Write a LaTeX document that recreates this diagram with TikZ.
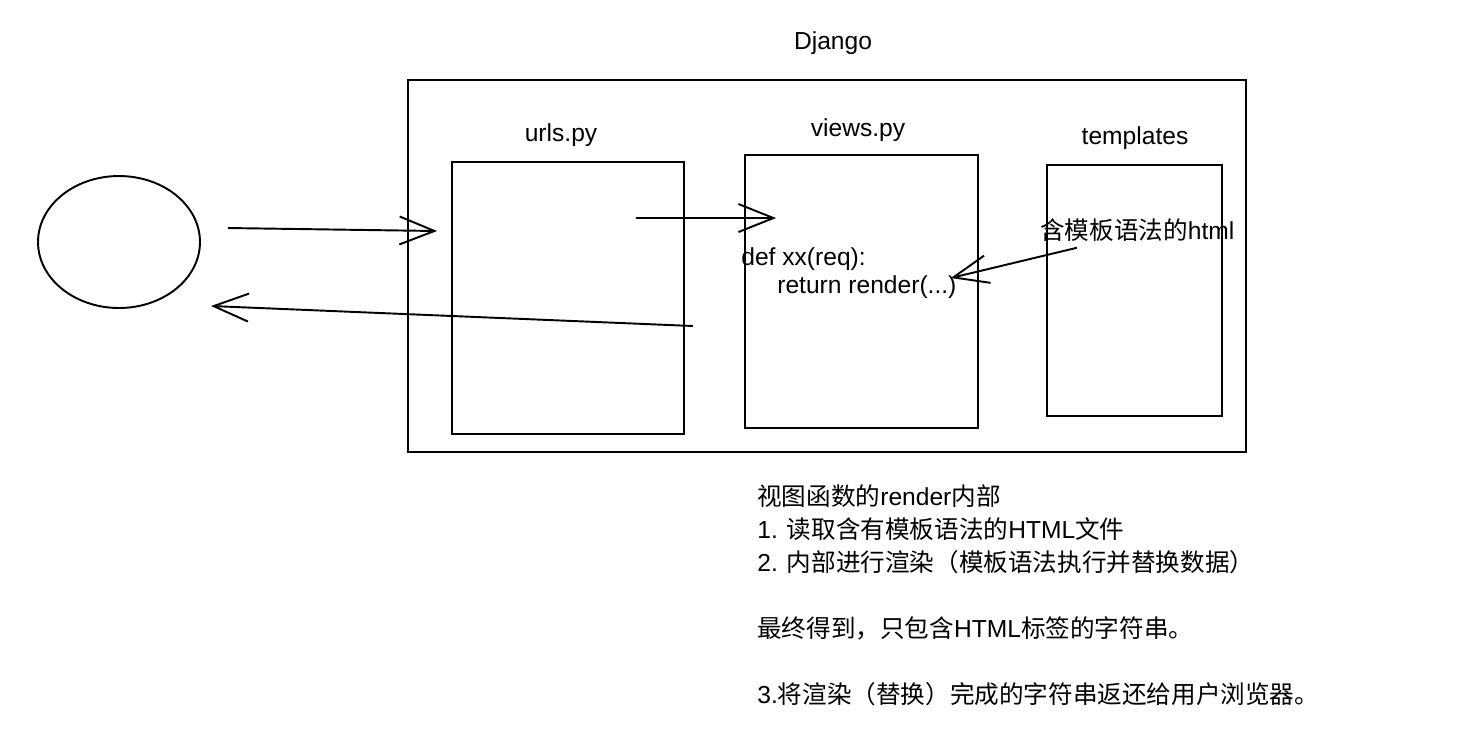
\documentclass[tikz,border=0pt]{standalone}
\usepackage{fontspec}
\setmainfont{Liberation Sans}
\newfontfamily\cjk{Noto Sans CJK SC}
\usetikzlibrary{arrows.meta, positioning, shapes.geometric}

\begin{document}
\begin{tikzpicture}[x=0.02cm, y=-0.02cm, font=\fontsize{14pt}{18.8pt}\selectfont,
  b/.style={draw, line width=1.1pt, minimum width=4.64cm, minimum height=5.44cm},
  t/.style={inner sep=0pt},
  a/.style={-{Straight Barb[length=7mm, width=5.6mm]}, line width=1.1pt, draw=black}]
  \useasboundingbox (0,0) rectangle (1469,752);
  \node[draw, line width=1.1pt, minimum width=16.76cm, minimum height=7.44cm] (django) at (827,266) {};
  \node[t] (djlbl) at (833,43) {Django};
  \node[b] (urls) at (568,298) {};
  \node[b, minimum width=4.66cm, minimum height=5.46cm] (views) at (861.5,291.5) {};
  \node[b, minimum width=3.5cm, minimum height=5.02cm] (tpl) at (1134.5,290.5) {};
  \node[t] (urlslbl) at (561,135) {urls.py};
  \node[t] (viewslbl) at (858,130) {views.py};
  \node[t] (tpllbl) at (1135,138) {templates};
  \node[draw, ellipse, line width=1.1pt, minimum width=3.24cm, minimum height=2.64cm] (user) at (119,242) {};
  \node[t, anchor=west] (html) at (1040,230) {{\cjk 含模板语法的}html};
  \node[t, anchor=west, align=left, font=\fontsize{14pt}{15.9pt}\selectfont] (code) at (741,273)
    {def xx(req):\\\hspace{0.72cm}return render(...)};
  \node[t, anchor=north west, align=left] (note) at (757,484)
    {{\cjk 视图函数的}render{\cjk 内部}\\
     1. {\cjk 读取含有模板语法的}HTML{\cjk 文件}\\
     2. {\cjk 内部进行渲染（模板语法执行并替换数据）}\\[0.66cm]
     {\cjk 最终得到，只包含}HTML{\cjk 标签的字符串。}\\[0.66cm]
     3.{\cjk 将渲染（替换）完成的字符串返还给用户浏览器。}};
  \draw[a] ([xshift=0.54cm, yshift=0.28cm]user.east) -- ([xshift=-0.28cm, yshift=1.34cm]urls.west);
  \draw[a] ([xshift=-0.98cm, yshift=1.6cm]urls.east) -- ([xshift=0.64cm, yshift=1.47cm]views.west);
  % the reply leaves from just right of the urls box and runs back to the browser
  \draw[a] ([xshift=0.16cm, yshift=-0.56cm]urls.east) -- ([xshift=0.2cm, yshift=-1.28cm]user.east);
  \draw[a] ([xshift=0.74cm, yshift=-0.12cm]html.south west) -- ([xshift=-0.12cm, yshift=-0.1cm]code.east);
\end{tikzpicture}
\end{document}
